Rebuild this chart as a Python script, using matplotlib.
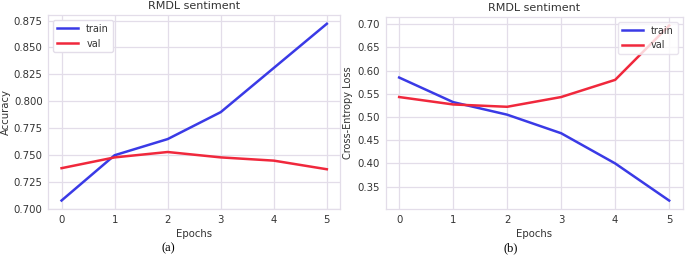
import matplotlib
matplotlib.use("Agg")
import matplotlib.pyplot as plt

epochs = [0, 1, 2, 3, 4, 5]
acc_train = [0.708, 0.750, 0.765, 0.790, 0.831, 0.872]
acc_val = [0.738, 0.748, 0.753, 0.748, 0.745, 0.737]
loss_train = [0.585, 0.532, 0.505, 0.465, 0.400, 0.320]
loss_val = [0.543, 0.527, 0.522, 0.543, 0.580, 0.697]
acc_ticks = [0.700, 0.725, 0.750, 0.775, 0.800, 0.825, 0.850, 0.875]
loss_ticks = [0.35, 0.40, 0.45, 0.50, 0.55, 0.60, 0.65, 0.70]

BLUE = '#3a3ae6'
RED = '#f0283c'
GRID = '#e3dde9'
TXT = '#333333'

plt.rcParams['font.family'] = ['DejaVu Sans']

fig = plt.figure(figsize=(6.85, 2.62), dpi=100)
ax1 = fig.add_axes([0.0705, 0.201, 0.426, 0.742])
ax2 = fig.add_axes([0.563, 0.201, 0.4336, 0.735])

def style(ax):
    ax.set_facecolor('white')
    ax.grid(True, color=GRID, linewidth=0.9)
    ax.set_axisbelow(True)
    for s in ax.spines.values():
        s.set_color(GRID)
        s.set_linewidth(0.9)
    ax.tick_params(axis='both', length=0, labelsize=7.3, colors=TXT, pad=4)
    ax.set_xticks(epochs)
    ax.set_title('RMDL sentiment', fontsize=8, color=TXT, pad=4)
    ax.set_xlabel('Epochs', fontsize=7.3, color=TXT, labelpad=3)

ax1.plot(epochs, acc_train, color=BLUE, lw=1.8, label='train')
ax1.plot(epochs, acc_val, color=RED, lw=1.8, label='val')
style(ax1)
ax1.set_yticks(acc_ticks)
ax1.set_yticklabels([f'{t:.3f}' for t in acc_ticks])
ax1.set_ylabel('Accuracy', fontsize=7.3, color=TXT, labelpad=2)
ax1.legend(loc='upper left', fontsize=7, frameon=True, edgecolor=GRID,
           framealpha=1, fancybox=True, handlelength=2.2, borderpad=0.4,
           labelcolor=TXT)

ax2.plot(epochs, loss_train, color=BLUE, lw=1.8, label='train')
ax2.plot(epochs, loss_val, color=RED, lw=1.8, label='val')
style(ax2)
ax2.set_yticks(loss_ticks)
ax2.set_yticklabels([f'{t:.2f}' for t in loss_ticks])
ax2.set_ylabel('Cross-Entropy Loss', fontsize=7, color=TXT, labelpad=3)
ax2.legend(loc='upper right', fontsize=7, frameon=True, edgecolor=GRID,
           framealpha=0.8, fancybox=True, handlelength=2.2, borderpad=0.4,
           labelcolor=TXT)

fig.text(0.245, 0.04, '(a)', fontsize=9, family='Liberation Serif', ha='center')
fig.text(0.745, 0.04, '(b)', fontsize=9, family='Liberation Serif', ha='center')

fig.savefig('out.png', dpi=100, facecolor='white')
